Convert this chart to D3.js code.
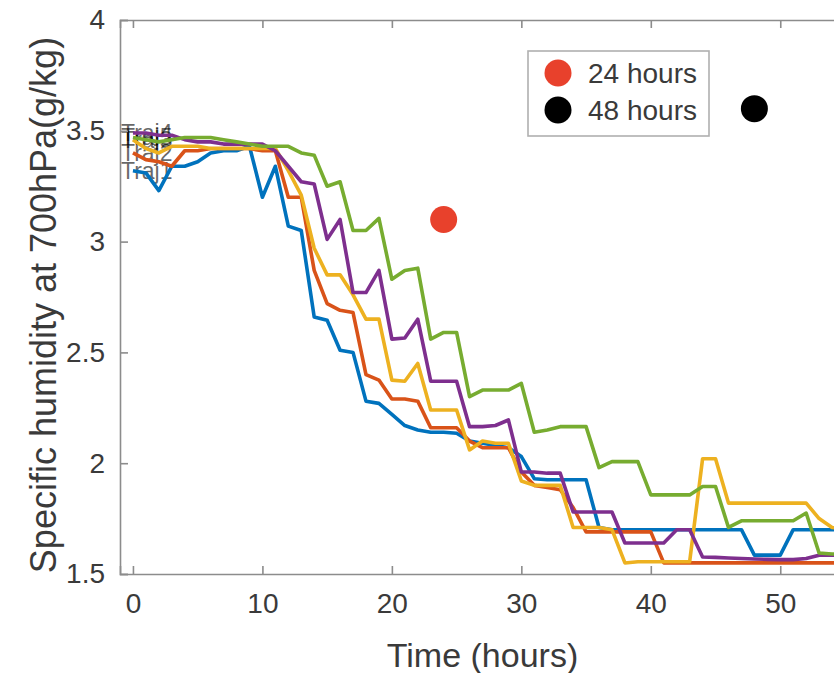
<!DOCTYPE html>
<html>
<head>
<meta charset="utf-8">
<script src="https://cdn.jsdelivr.net/npm/d3@7"></script>
<style>
  html, body { margin: 0; padding: 0; background: #fff; }
  svg { display: block; font-family: "Liberation Sans", Arial, Helvetica, sans-serif; }
</style>
</head>
<body>
<svg id="chart" width="834" height="673"></svg>
<script>
// Hourly time axis (hours since release)
const hours = d3.range(0, 56);

// Specific humidity at 700 hPa along each trajectory (g/kg), one value per hour
const traj1 = [3.32, 3.31, 3.23, 3.34, 3.34, 3.36, 3.40, 3.41, 3.41, 3.43,
               3.20, 3.34, 3.07, 3.05, 2.66, 2.645, 2.51, 2.50, 2.28, 2.27,
               2.22, 2.17, 2.15, 2.14, 2.14, 2.135, 2.10, 2.09, 2.08, 2.07,
               2.03, 1.93, 1.925, 1.925, 1.925, 1.925, 1.71, 1.70, 1.70, 1.70,
               1.70, 1.70, 1.70, 1.70, 1.70, 1.70, 1.70, 1.70, 1.585, 1.585,
               1.585, 1.70, 1.70, 1.70, 1.70, 1.70];
const traj2 = [3.40, 3.37, 3.36, 3.34, 3.41, 3.41, 3.42, 3.42, 3.42, 3.42,
               3.41, 3.41, 3.20, 3.20, 2.87, 2.72, 2.69, 2.68, 2.40, 2.375,
               2.29, 2.29, 2.28, 2.16, 2.16, 2.16, 2.10, 2.07, 2.07, 2.07,
               1.96, 1.90, 1.89, 1.88, 1.80, 1.69, 1.69, 1.69, 1.69, 1.69,
               1.69, 1.55, 1.55, 1.55, 1.55, 1.55, 1.55, 1.55, 1.55, 1.55,
               1.55, 1.55, 1.55, 1.55, 1.55, 1.55];
const traj3 = [3.46, 3.42, 3.40, 3.43, 3.43, 3.43, 3.42, 3.42, 3.42, 3.42,
               3.42, 3.42, 3.32, 3.21, 2.97, 2.85, 2.85, 2.76, 2.65, 2.65,
               2.375, 2.37, 2.45, 2.24, 2.24, 2.24, 2.06, 2.10, 2.09, 2.09,
               1.92, 1.90, 1.90, 1.90, 1.71, 1.71, 1.71, 1.70, 1.55, 1.555,
               1.555, 1.555, 1.555, 1.555, 2.02, 2.02, 1.82, 1.82, 1.82, 1.82,
               1.82, 1.82, 1.82, 1.75, 1.71, 1.70];
const traj4 = [3.49, 3.49, 3.48, 3.48, 3.46, 3.45, 3.45, 3.44, 3.44, 3.44,
               3.44, 3.41, 3.34, 3.27, 3.26, 3.01, 3.10, 2.77, 2.77, 2.87,
               2.56, 2.565, 2.65, 2.37, 2.37, 2.37, 2.165, 2.165, 2.17, 2.195,
               1.96, 1.96, 1.955, 1.955, 1.78, 1.78, 1.78, 1.78, 1.64, 1.64,
               1.64, 1.64, 1.70, 1.70, 1.577, 1.575, 1.572, 1.57, 1.568, 1.566,
               1.565, 1.565, 1.57, 1.585, 1.585, 1.585];
const traj5 = [3.47, 3.46, 3.45, 3.46, 3.47, 3.47, 3.47, 3.46, 3.45, 3.44,
               3.43, 3.43, 3.43, 3.40, 3.39, 3.25, 3.27, 3.05, 3.05, 3.105,
               2.83, 2.87, 2.88, 2.56, 2.59, 2.59, 2.30, 2.33, 2.33, 2.33,
               2.36, 2.14, 2.15, 2.165, 2.165, 2.165, 1.98, 2.007, 2.007, 2.007,
               1.857, 1.857, 1.857, 1.857, 1.895, 1.895, 1.71, 1.74, 1.74, 1.74,
               1.74, 1.74, 1.775, 1.595, 1.59, 1.59];

const trajNames = ["Traj1", "Traj2", "Traj3", "Traj4", "Traj5"];
const trajValues = [traj1, traj2, traj3, traj4, traj5];
const trajColors = ["#0072BD", "#D95319", "#EDB120", "#7E2F8E", "#77AC30"];

// Observed markers
const markerNames = ["24 hours", "48 hours"];
const markerTimes = [24, 48];
const markerValues = [3.1, 3.6];
const markerColors = ["#e8412c", "#000000"];

// Axis ticks
const xTicks = [0, 10, 20, 30, 40, 50];
const yTicks = [1.5, 2, 2.5, 3, 3.5, 4];
const xLabel = "Time (hours)";
const yLabel = "Specific humidity at 700hPa(g/kg)";

const svg = d3.select("#chart");
const plot = { left: 120, top: 20, right: 845, bottom: 574 };

const x = d3.scaleLinear().domain([-1, 55]).range([plot.left, plot.right]);
const y = d3.scaleLinear().domain([1.5, 4]).range([plot.bottom, plot.top]);

const axisColor = "#8c8c8c";
const textColor = "#3a3a3a";
const tickLen = 8;

svg.append("defs").append("clipPath").attr("id", "plotclip")
  .append("rect")
  .attr("x", plot.left).attr("y", plot.top)
  .attr("width", plot.right - plot.left).attr("height", plot.bottom - plot.top);

// Trajectory labels at each starting point
const labels = svg.append("g").attr("font-size", 23).attr("fill", "#000").attr("fill-opacity", 0.6);
trajNames.forEach((name, i) => {
  labels.append("text")
    .attr("x", x(hours[0]) - 12)
    .attr("y", y(trajValues[i][0]))
    .attr("dy", "0.35em")
    .text(name);
});

// Trajectory lines
const line = d3.line().x((d, i) => x(hours[i])).y(d => y(d));
const lines = svg.append("g").attr("clip-path", "url(#plotclip)");
trajValues.forEach((vals, i) => {
  lines.append("path")
    .attr("d", line(vals))
    .attr("fill", "none")
    .attr("stroke", trajColors[i])
    .attr("stroke-width", 3.6)
    .attr("stroke-linejoin", "round");
});

// Marker points
svg.append("g").selectAll("circle")
  .data(markerTimes)
  .join("circle")
  .attr("cx", (d) => x(d))
  .attr("cy", (d, i) => y(markerValues[i]))
  .attr("r", 13.5)
  .attr("fill", (d, i) => markerColors[i]);

// Axes box (left, bottom, top)
const axes = svg.append("g");
const xAxisB = d3.axisBottom(x).tickValues(xTicks).tickSize(-tickLen).tickPadding(19).tickFormat(d3.format("d"));
const xAxisT = d3.axisTop(x).tickValues(xTicks).tickSize(-tickLen).tickFormat("");
const yAxisL = d3.axisLeft(y).tickValues(yTicks).tickSize(-tickLen).tickPadding(15).tickFormat(d => d3.format("")(d));

const gB = axes.append("g").attr("transform", `translate(0,${plot.bottom})`).call(xAxisB);
const gT = axes.append("g").attr("transform", `translate(0,${plot.top})`).call(xAxisT);
const gL = axes.append("g").attr("transform", `translate(${plot.left},0)`).call(yAxisL);

[gB, gT, gL].forEach(g => {
  g.select(".domain").attr("stroke", axisColor).attr("stroke-width", 1.6);
  g.selectAll(".tick line").attr("stroke", axisColor).attr("stroke-width", 1.6);
  g.selectAll(".tick text").attr("fill", textColor).attr("font-size", 28)
    .attr("font-family", "'Liberation Sans', Arial, Helvetica, sans-serif");
});

// Axis titles
svg.append("text")
  .attr("x", (plot.left + plot.right) / 2)
  .attr("y", 667)
  .attr("text-anchor", "middle")
  .attr("font-size", 34)
  .attr("fill", textColor)
  .text(xLabel);

svg.append("text")
  .attr("transform", `translate(56,${(plot.top + plot.bottom) / 2 + 8}) rotate(-90)`)
  .attr("text-anchor", "middle")
  .attr("font-size", 36)
  .attr("fill", textColor)
  .text(yLabel);

// Legend
const leg = svg.append("g").attr("transform", "translate(528,51)");
leg.append("rect")
  .attr("width", 181).attr("height", 85)
  .attr("fill", "#fff")
  .attr("stroke", "#b0b0b0").attr("stroke-width", 1.6);
markerNames.forEach((name, i) => {
  const row = leg.append("g").attr("transform", `translate(0,${22 + i * 37})`);
  row.append("circle").attr("cx", 30).attr("cy", 0).attr("r", 13.5).attr("fill", markerColors[i]);
  row.append("text").attr("x", 60).attr("y", 0).attr("dy", "0.35em")
    .attr("font-size", 28).attr("fill", textColor).text(name);
});
</script>
</body>
</html>
